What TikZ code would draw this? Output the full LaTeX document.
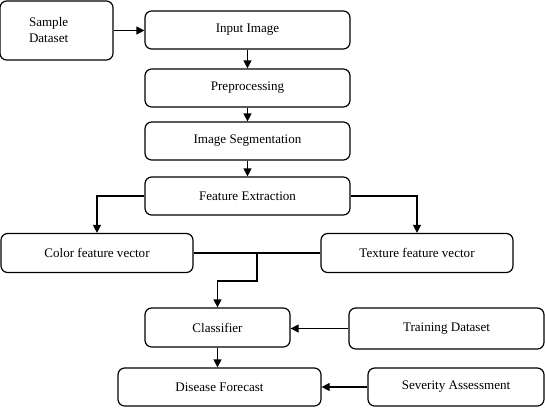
\documentclass[tikz,border=0pt]{standalone}
\usepackage{fontspec}
\setmainfont{Liberation Serif}
\usepackage{tikz}
\usetikzlibrary{arrows.meta, positioning, calc}

\begin{document}
\begin{tikzpicture}[x=0.75pt, y=-0.75pt,
        box/.style={draw, line width=0.9pt, rounded corners=5pt, align=center,
                font=\fontsize{9.8}{12}\selectfont, inner sep=2pt},
        flow/.style={line width=0.9pt, -{Triangle[length=6pt, width=6pt]}},
        merge line/.style={line width=0.8pt}]

        \useasboundingbox (0,0) rectangle (545,407);

        \node [box, minimum width=84.75pt, minimum height=44.25pt, align=left,
                text width=41.25pt, inner xsep=21.75pt] (sample) at (56.5,30.5) {Sample\\Dataset};

        \foreach \n/\t/\y in {input/Input Image/30, prep/Preprocessing/88,
                segment/Image Segmentation/141, feature/Feature Extraction/196}
        \node [box, minimum width=153.75pt, minimum height=28.5pt] (\n) at (247.5,\y) {\t};

        \node [box, minimum width=144pt, minimum height=29.25pt] (color) at (97,253) {Color feature vector};
        \node [box, minimum width=144pt, minimum height=29.25pt] (texture) at (417,253) {Texture feature vector};

        \node [box, minimum width=108.75pt, minimum height=29.25pt] (classifier) at (217.5,327.5) {Classifier};
        \node [box, minimum width=146.25pt, minimum height=30.75pt] (training) at (446.5,328.5) {Training Dataset};

        \node [box, minimum width=152.25pt, minimum height=28.5pt] (forecast) at (219.5,387) {Disease Forecast};
        \node [box, minimum width=132pt, minimum height=28.5pt] (severity) at (456,387) {Severity Assessment};

        \draw [flow] (sample.east) -- (sample.east -| input.west);

        \foreach \a/\b in {input/prep, prep/segment, segment/feature}
        \draw [flow] (\a.south) -- (\b.north);

        \draw [flow] (feature.west) -| (color.north);
        \draw [flow] (feature.east) -| (texture.north);

        % both vectors go to the classifier
        \coordinate (merge) at (257,253);
        \coordinate (turn) at (257,281);
        \draw [merge line] (color.east) -- (texture.west);
        \draw [flow] (merge) -- (turn) -| (classifier.north);

        \draw [flow] (classifier.south) -- (classifier.south |- forecast.north);
        \draw [flow] (training.west) -- (training.west -| classifier.east);
        \draw [flow] (severity.west) -- (forecast.east);

\end{tikzpicture}
\end{document}
